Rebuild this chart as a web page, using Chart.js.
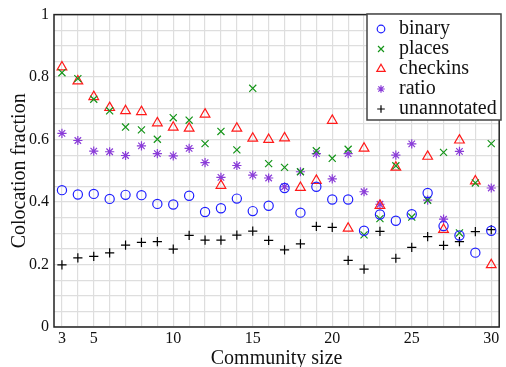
<!DOCTYPE html>
<html>
<head>
<meta charset="utf-8">
<script src="https://cdn.jsdelivr.net/npm/chart.js@4"></script>
<style>
  body { margin: 0; background: #fff; }
  canvas { display: block; }
</style>
</head>
<body>
<canvas id="chart" width="506" height="367"></canvas>
<script>
// Community sizes on the x axis
const sizes = [3, 4, 5, 6, 7, 8, 9, 10, 11, 12, 13, 14, 15, 16, 17, 18, 19, 20, 21, 22, 23, 24, 25, 26, 27, 28, 29, 30];

// Colocation fraction per series (null = no point)
const binary = [0.438, 0.424, 0.426, 0.410, 0.423, 0.422, 0.394, 0.392, 0.420, 0.368, 0.380, 0.411, 0.371, 0.388,
    0.445, 0.366, 0.449, 0.408, 0.408, 0.308, 0.360, 0.340, 0.361, 0.429, 0.323, 0.293, 0.238, 0.308];
const places = [0.814, 0.795, 0.729, 0.692, 0.640, 0.631, 0.601, 0.670, 0.662, 0.587, 0.626, 0.567, 0.764, 0.523,
    0.511, 0.497, 0.564, 0.540, 0.569, 0.295, 0.347, 0.516, 0.352, 0.406, 0.559, 0.301, 0.461, 0.587];
const checkins = [0.832, 0.787, 0.737, 0.702, 0.692, 0.689, 0.653, 0.639, 0.636, 0.681, 0.453, 0.636, 0.604, 0.600,
    0.605, 0.446, 0.469, 0.661, 0.316, 0.572, 0.389, 0.511, null, 0.546, 0.312, 0.598, 0.467, 0.199];
const ratio = [0.620, 0.597, 0.563, 0.561, 0.549, 0.580, 0.555, 0.548, 0.572, 0.526, 0.479, 0.517, 0.486, 0.477,
    0.449, 0.497, 0.555, 0.474, 0.555, 0.433, 0.393, 0.550, 0.586, 0.406, 0.345, 0.562, null, 0.445];
const unannotated = [0.199, 0.221, 0.226, 0.237, 0.262, 0.271, 0.273, 0.249, 0.293, 0.278, 0.278, 0.294, 0.307, 0.277,
    0.247, 0.266, 0.322, 0.319, 0.213, 0.185, 0.306, 0.220, 0.255, 0.289, 0.261, 0.273, 0.305, 0.312];

// Tick labels
const xTickLabels = [3, 5, 10, 15, 20, 25, 30];
const yTickLabels = [0, 0.2, 0.4, 0.6, 0.8, 1];

const FONT = "'Liberation Serif', 'DejaVu Serif', serif";

function toPoints(values) {
    return sizes.map((s, i) => ({ x: s, y: values[i] }));
}

function series(label, values, style, color, radius) {
    return {
        label: label,
        data: toPoints(values),
        pointStyle: style,
        borderColor: color,
        backgroundColor: 'rgba(0,0,0,0)',
        pointBorderWidth: 1.2,
        pointRadius: radius,
        pointHoverRadius: radius,
        showLine: false
    };
}

// Frame around the plot area
const framePlugin = {
    id: 'frame',
    afterDatasetsDraw(chart) {
        const a = chart.chartArea;
        const ctx = chart.ctx;
        ctx.save();
        ctx.strokeStyle = '#222';
        ctx.lineWidth = 1.5;
        ctx.strokeRect(a.left, a.top, a.right - a.left, a.bottom - a.top);
        ctx.restore();
    }
};

// Boxed legend in the top right corner, like the original
const legendPlugin = {
    id: 'boxLegend',
    afterDraw(chart) {
        const ctx = chart.ctx;
        const left = 367, top = 14, w = 134, h = 106;
        ctx.save();
        ctx.fillStyle = '#fff';
        ctx.fillRect(left, top, w, h);
        ctx.strokeStyle = '#444';
        ctx.lineWidth = 1.5;
        ctx.strokeRect(left, top, w, h);
        ctx.font = '20px ' + FONT;
        ctx.textBaseline = 'middle';
        ctx.textAlign = 'left';
        chart.data.datasets.forEach((ds, i) => {
            const y = top + 15 + i * 20;
            ctx.strokeStyle = ds.borderColor;
            ctx.fillStyle = 'rgba(0,0,0,0)';
            ctx.lineWidth = ds.pointBorderWidth;
            Chart.helpers.drawPoint(ctx, { pointStyle: ds.pointStyle, rotation: 0, radius: ds.pointRadius - 0.8, borderWidth: ds.pointBorderWidth }, 381, y);
            ctx.fillStyle = '#111';
            ctx.fillText(ds.label, 399, y);
        });
        ctx.restore();
    }
};

const ctx = document.getElementById('chart').getContext('2d');
const chart = new Chart(ctx, {
    type: 'scatter',
    data: {
        datasets: [
            series('binary', binary, 'circle', '#1f1fff', 4.6),
            series('places', places, 'crossRot', '#16951a', 5),
            series('checkins', checkins, 'triangle', '#ff1a1a', 5.6),
            series('ratio', ratio, 'star', '#8a3cd8', 4.6),
            series('unannotated', unannotated, 'cross', '#000000', 4.6)
        ]
    },
    options: {
        responsive: false,
        animation: false,
        devicePixelRatio: 1,
        layout: { padding: { left: 0, right: 2, top: 12, bottom: 0 } },
        plugins: {
            legend: { display: false },
            tooltip: { enabled: false }
        },
        scales: {
            x: {
                type: 'linear',
                min: 2.5,
                max: 30.5,
                afterBuildTicks: (axis) => {
                    axis.ticks = sizes.map(v => ({ value: v }));
                },
                afterFit: (axis) => { axis.height = 40; },
                ticks: {
                    autoSkip: false,
                    maxRotation: 0,
                    padding: 2,
                    color: '#111',
                    font: { family: FONT, size: 16 },
                    callback: (v) => xTickLabels.includes(v) ? String(v) : ''
                },
                grid: { color: '#dedede', lineWidth: 1.2, drawTicks: false },
                border: { display: false },
                title: {
                    display: true,
                    text: 'Community size',
                    color: '#111',
                    font: { family: FONT, size: 20 },
                    padding: { top: 0, bottom: -4 }
                }
            },
            y: {
                min: 0,
                max: 1,
                afterBuildTicks: (axis) => {
                    const t = [];
                    for (let i = 0; i <= 20; i++) t.push({ value: i / 20 });
                    axis.ticks = t;
                },
                afterFit: (axis) => { axis.width = 54; },
                ticks: {
                    autoSkip: false,
                    padding: 5,
                    color: '#111',
                    font: { family: FONT, size: 16 },
                    callback: (v) => {
                        const hit = yTickLabels.find(l => Math.abs(l - v) < 1e-6);
                        return hit === undefined ? '' : String(hit);
                    }
                },
                grid: { color: '#dedede', lineWidth: 1.2, drawTicks: false },
                border: { display: false },
                title: {
                    display: true,
                    text: 'Colocation fraction',
                    color: '#111',
                    font: { family: FONT, size: 20 },
                    padding: { top: 8, bottom: 0 }
                }
            }
        }
    },
    plugins: [framePlugin, legendPlugin]
});
</script>
</body>
</html>
